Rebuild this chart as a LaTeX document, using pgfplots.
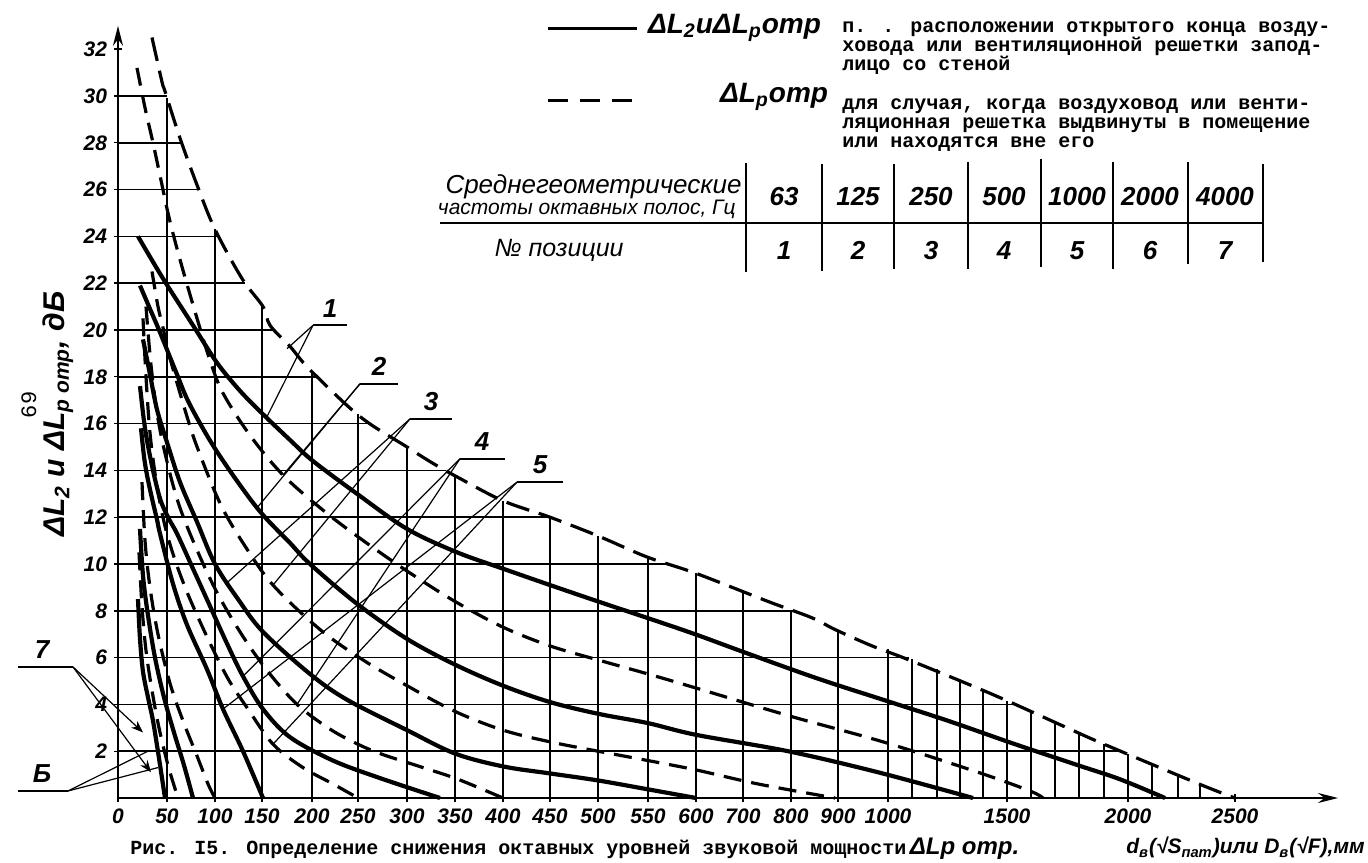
\documentclass[border=0pt]{standalone}
\usepackage{fontspec}
\setmainfont{Liberation Sans}
\newfontfamily\tw{Liberation Mono}
\usepackage{amsmath}
\usepackage{pgfplots}
\pgfplotsset{compat=1.18}
\usetikzlibrary{arrows.meta}

\tikzset{
  grd/.style={line width=0.75pt, black},
  sol/.style={line width=2.1pt, black, smooth, tension=0.55},
  dsh/.style={line width=1.6pt, black, dash pattern=on 9pt off 5pt, smooth, tension=0.55},
  ldr/.style={line width=0.6pt, black},
  hand/.style={font=\fontsize{13}{13}\selectfont\bfseries\itshape},
}

\begin{document}
\begin{tikzpicture}
\begin{axis}[
  scale only axis, width=610pt, height=386.1pt,
  xmin=0, xmax=1220, ymin=0, ymax=33,
  axis lines=left,
  axis line style={line width=1.1pt, -{Stealth[length=10pt,width=5pt]}},
  clip=false,
  xtick={0,49,97,144,194,240,289,337,385,432,480,530,578,625,673,720,770,889,1010,1117},
  xticklabels={0,50,100,150,200,250,300,350,400,450,500,550,600,700,800,900,1000,1500,2000,2500},
  ytick={2,4,...,32},
  tick style={black, line width=0.7pt},
  major tick length=4pt,
  /pgf/number format/assume math mode=true,
  ticklabel style={font=\fontsize{10.5}{10.5}\selectfont\bfseries\itshape},
]
% grid: vertical lines end on the outer dashed curve
\draw[grd] (axis cs:49,0) -- (axis cs:49,29.9);
\draw[grd] (axis cs:97,0) -- (axis cs:97,24.3);
\draw[grd] (axis cs:144,0) -- (axis cs:144,21.0);
\draw[grd] (axis cs:194,0) -- (axis cs:194,18.2);
\draw[grd] (axis cs:240,0) -- (axis cs:240,16.4);
\draw[grd] (axis cs:289,0) -- (axis cs:289,15.0);
\draw[grd] (axis cs:337,0) -- (axis cs:337,13.8);
\draw[grd] (axis cs:385,0) -- (axis cs:385,12.7);
\draw[grd] (axis cs:432,0) -- (axis cs:432,12.0);
\draw[grd] (axis cs:480,0) -- (axis cs:480,11.2);
\draw[grd] (axis cs:530,0) -- (axis cs:530,10.3);
\draw[grd] (axis cs:578,0) -- (axis cs:578,9.6);
\draw[grd] (axis cs:625,0) -- (axis cs:625,8.8);
\draw[grd] (axis cs:673,0) -- (axis cs:673,8.0);
\draw[grd] (axis cs:720,0) -- (axis cs:720,7.15);
\draw[grd] (axis cs:770,0) -- (axis cs:770,6.35);
\draw[grd] (axis cs:794,0) -- (axis cs:794,5.95);
\draw[grd] (axis cs:819,0) -- (axis cs:819,5.5);
\draw[grd] (axis cs:842,0) -- (axis cs:842,5.05);
\draw[grd] (axis cs:865,0) -- (axis cs:865,4.6);
\draw[grd] (axis cs:889,0) -- (axis cs:889,4.15);
\draw[grd] (axis cs:913,0) -- (axis cs:913,3.7);
\draw[grd] (axis cs:937,0) -- (axis cs:937,3.25);
\draw[grd] (axis cs:961,0) -- (axis cs:961,2.8);
\draw[grd] (axis cs:986,0) -- (axis cs:986,2.3);
\draw[grd] (axis cs:1010,0) -- (axis cs:1010,1.9);
\draw[grd] (axis cs:1034,0) -- (axis cs:1034,1.45);
\draw[grd] (axis cs:1060,0) -- (axis cs:1060,1.0);
\draw[grd] (axis cs:1082,0) -- (axis cs:1082,0.6);
% grid: horizontal lines
\draw[grd] (axis cs:0,2) -- (axis cs:1003,2);
\draw[grd] (axis cs:0,4) -- (axis cs:897,4);
\draw[grd] (axis cs:0,6) -- (axis cs:791,6);
\draw[grd] (axis cs:0,8) -- (axis cs:675,8);
\draw[grd] (axis cs:0,10) -- (axis cs:550,10);
\draw[grd] (axis cs:0,12) -- (axis cs:432,12);
\draw[grd] (axis cs:0,14) -- (axis cs:328,14);
\draw[grd] (axis cs:0,16) -- (axis cs:253,16);
\draw[grd] (axis cs:0,18) -- (axis cs:200,18);
\draw[grd] (axis cs:0,20) -- (axis cs:156,20);
\draw[grd] (axis cs:0,22) -- (axis cs:127,22);
\draw[grd] (axis cs:0,24) -- (axis cs:101,24);
\draw[grd] (axis cs:0,26) -- (axis cs:81,26);
\draw[grd] (axis cs:0,28) -- (axis cs:63.5,28);
\draw[grd] (axis cs:0,30) -- (axis cs:48.5,30);

% band 1 (63 Hz)
\addplot[dsh, dash pattern=on 12pt off 5pt, smooth=false] coordinates {(34,32.5) (44,30.6) (47,30.2) (62,28.2) (79,26.2) (97,24.3) (124,22.2) (145,21.0) (152,20.2) (172,19.3) (192,18.3) (242,16.3) (289,15.0) (315,14.3) (340,13.7) (385,12.7) (432,12.0) (480,11.2) (529,10.3) (578,9.6) (650,8.4) (694,7.7) (717,7.2) (754,6.5) (791,5.9) (876,4.4) (949,3.0) (986,2.3) (1081,0.6) (1117,0)};
\addplot[sol] coordinates {(20,24.0) (45,22.2) (75,20.2) (99,18.6) (122,17.4) (145,16.4) (172,15.3) (195,14.4) (239,13.0) (289,11.5) (339,10.5) (385,9.8) (432,9.1) (480,8.4) (529,7.7) (577,7.0) (628,6.2) (700,5.1) (765,4.2) (830,3.3) (897,2.3) (960,1.4) (1002,0.8) (1047,0)};
% band 2 (125 Hz)
\addplot[dsh] coordinates {(19,31.2) (27,29.5) (35,28.0) (42,26.6) (50,25.0) (57,23.8) (66,22.4) (79,20.5) (92,18.7) (105,17.3) (132,15.5) (165,13.8) (205,12.3) (242,11.1) (289,9.7) (337,8.4) (385,7.3) (432,6.5) (480,5.9) (530,5.3) (578,4.7) (672,3.5) (765,2.4) (860,1.1) (912,0.3) (925,0)};
\addplot[sol] coordinates {(22,21.9) (32,20.9) (42,19.9) (59,18.1) (72,16.8) (99,14.8) (139,12.4) (172,10.9) (192,10.0) (239,8.3) (289,6.8) (337,5.7) (385,4.8) (432,4.1) (480,3.6) (530,3.2) (578,2.7) (670,2.0) (760,1.1) (855,0)};
% band 3 (250 Hz)
\addplot[dsh] coordinates {(34,22.5) (40,21.0) (45,20.1) (52,18.8) (69,16.3) (80,14.9) (102,12.6) (125,10.9) (155,9.1) (202,7.2) (245,5.9) (289,4.8) (337,3.7) (385,2.9) (432,2.4) (480,2.0) (530,1.6) (578,1.2) (640,0.6) (717,0)};
\addplot[sol] coordinates {(25,19.6) (32,18.1) (39,16.6) (49,15.2) (62,13.5) (79,11.8) (97,10.0) (120,8.5) (145,7.1) (192,5.3) (229,4.2) (289,2.9) (337,1.9) (385,1.35) (432,1.05) (480,0.75) (530,0.37) (578,0)};
% band 4 (500 Hz)
\addplot[dsh] coordinates {(28,21.0) (33,18.5) (40,16.2) (50,14.2) (62,12.4) (80,10.5) (100,8.7) (125,6.9) (150,5.4) (179,4.0) (210,3.0) (235,2.4) (262,1.9) (305,1.3) (340,0.8) (385,0)};
\addplot[sol] coordinates {(22,17.6) (27,15.8) (34,14.2) (42,12.8) (50,12.0) (59,11.3) (75,9.8) (92,8.2) (109,6.6) (125,5.2) (145,3.8) (172,2.6) (215,1.6) (262,0.85) (322,0)};
% band 5 (1000 Hz)
\addplot[dsh] coordinates {(25,20.5) (28,18.0) (32,15.6) (38,13.6) (46,11.8) (56,10.3) (70,8.7) (90,6.8) (110,5.1) (130,3.8) (155,2.3) (185,1.3) (215,0.6) (240,0)};
\addplot[sol] coordinates {(23,15.8) (26,14.6) (29,13.8) (34,12.8) (39,11.9) (42,11.3) (55,9.15) (69,7.4) (89,5.5) (105,3.8) (125,2.0) (145,0)};
% band 6 (2000 Hz)
\addplot[dsh] coordinates {(24,13.5) (27,11.0) (32,9.0) (40,7.0) (52,4.9) (65,3.3) (79,1.8) (90,0.6) (97,0)};
\addplot[sol] coordinates {(22,11.5) (25,9.5) (30,7.8) (37,6.0) (46,4.3) (56,2.8) (66,1.4) (75,0)};
% band 7 (4000 Hz)
\addplot[dsh] coordinates {(21,10.5) (24,8.2) (28,6.3) (34,4.6) (41,3.0) (50,1.4) (60,0)};
\addplot[sol] coordinates {(20,8.5) (22,6.8) (25,5.4) (30,4.3) (35,3.3) (41,1.7) (47,0)};

% position labels with leaders
\draw[line width=1pt] (axis cs:195,20.2) -- (axis cs:229,20.2);
\node[hand, anchor=south] at (axis cs:212,20.25) {1};
\draw[ldr] (axis cs:195,20.2) -- (axis cs:169,19.2);
\draw[ldr] (axis cs:195,20.2) -- (axis cs:149,16.3);
\draw[line width=1pt] (axis cs:242,17.7) -- (axis cs:280,17.7);
\node[hand, anchor=south] at (axis cs:261,17.75) {2};
\draw[ldr] (axis cs:242,17.7) -- (axis cs:165,13.8);
\draw[ldr] (axis cs:242,17.7) -- (axis cs:139,12.4);
\draw[line width=1pt] (axis cs:292,16.2) -- (axis cs:334,16.2);
\node[hand, anchor=south] at (axis cs:313,16.25) {3};
\draw[ldr] (axis cs:292,16.2) -- (axis cs:155,9.1);
\draw[ldr] (axis cs:292,16.2) -- (axis cs:109,9.2);
\draw[line width=1pt] (axis cs:342,14.5) -- (axis cs:387,14.5);
\node[hand, anchor=south] at (axis cs:364,14.55) {4};
\draw[ldr] (axis cs:342,14.5) -- (axis cs:179,4.0);
\draw[ldr] (axis cs:342,14.5) -- (axis cs:125,5.2);
\draw[line width=1pt] (axis cs:399,13.5) -- (axis cs:445,13.5);
\node[hand, anchor=south] at (axis cs:422,13.55) {5};
\draw[ldr] (axis cs:399,13.5) -- (axis cs:155,2.3);
\draw[ldr] (axis cs:399,13.5) -- (axis cs:105,3.8);
% labels 7 and 6 at bottom left
\draw[line width=1pt] (axis cs:-100,5.6) -- (axis cs:-45,5.6);
\node[hand, anchor=south] at (axis cs:-76,5.65) {7};
\draw[ldr, -{Stealth[length=6pt]}] (axis cs:-45,5.6) -- (axis cs:25,2.8);
\draw[ldr, -{Stealth[length=6pt]}] (axis cs:-45,5.6) -- (axis cs:33,1.1);
\draw[line width=1pt] (axis cs:-100,0.3) -- (axis cs:-50,0.3);
\node[hand, anchor=south] at (axis cs:-76,0.35) {Б};
\draw[ldr] (axis cs:-50,0.3) -- (axis cs:30,2.0);
\draw[ldr] (axis cs:-50,0.3) -- (axis cs:40,1.3);

% axis title and page number
\node[rotate=90, font=\fontsize{15}{15}\selectfont\bfseries\itshape] at (axis cs:-60,16.4)
  {ΔL\textsubscript{2} и ΔL\textsubscript{р отр}, дБ};
\node[rotate=90, font=\tw\fontsize{11}{11}\selectfont] at (axis cs:-89,16.8) {69};

% legend
\draw[line width=1.6pt] (axis cs:430,32.9) -- (axis cs:519,32.9);
\node[font=\fontsize{14}{14}\selectfont\bfseries\itshape, anchor=west] at (axis cs:523,32.9)
  {ΔL\textsubscript{2}иΔL\textsubscript{р}отр};
\node[font=\tw\bfseries\fontsize{10}{9.6}\selectfont, anchor=north west, align=left, inner sep=0pt]
  at (axis cs:724,33.2)
  {п. . расположении открытого конца возду-\\ховода или вентиляционной решетки запод-\\лицо со стеной};
\draw[line width=1.6pt, dash pattern=on 10pt off 6pt] (axis cs:430,29.8) -- (axis cs:519,29.8);
\node[font=\fontsize{14}{14}\selectfont\bfseries\itshape, anchor=west] at (axis cs:595,29.95)
  {ΔL\textsubscript{р}отр};
\node[font=\tw\bfseries\fontsize{10}{9.6}\selectfont, anchor=north west, align=left, inner sep=0pt]
  at (axis cs:724,29.9)
  {для случая, когда воздуховод или венти-\\ляционная решетка выдвинуты в помещение\\или находятся вне его};

% table of octave bands
\draw[line width=1.3pt] (axis cs:322,24.57) -- (axis cs:1145,24.57);
\draw[line width=0.9pt] (axis cs:628,27.14) -- (axis cs:628,22.48);
\draw[line width=0.9pt] (axis cs:704,27.1) -- (axis cs:704,22.5);
\draw[line width=0.9pt] (axis cs:776,27.1) -- (axis cs:776,22.6);
\draw[line width=0.9pt] (axis cs:850,27.2) -- (axis cs:850,22.6);
\draw[line width=0.9pt] (axis cs:923,27.3) -- (axis cs:923,22.7);
\draw[line width=0.9pt] (axis cs:995,27.2) -- (axis cs:995,22.6);
\draw[line width=0.9pt] (axis cs:1070,27.2) -- (axis cs:1070,22.8);
\draw[line width=0.9pt] (axis cs:1145,27.1) -- (axis cs:1145,22.9);
\node[font=\fontsize{13}{13}\selectfont\itshape, anchor=east, inner sep=1pt] at (axis cs:626,26.1) {Среднегеометрические};
\node[font=\fontsize{10.5}{10.5}\selectfont\itshape, anchor=east, inner sep=1pt] at (axis cs:620,25.15) {частоты октавных полос, Гц};
\node[font=\fontsize{12.5}{12.5}\selectfont\itshape, anchor=east, inner sep=1pt] at (axis cs:508,23.4) {№ позиции};
\node[hand] at (axis cs:666,25.7) {63};
\node[hand] at (axis cs:740,25.7) {125};
\node[hand] at (axis cs:813,25.7) {250};
\node[hand] at (axis cs:886,25.7) {500};
\node[hand] at (axis cs:959,25.7) {1000};
\node[hand] at (axis cs:1032,25.7) {2000};
\node[hand] at (axis cs:1107,25.7) {4000};
\node[hand] at (axis cs:666,23.4) {1};
\node[hand] at (axis cs:740,23.4) {2};
\node[hand] at (axis cs:813,23.4) {3};
\node[hand] at (axis cs:886,23.4) {4};
\node[hand] at (axis cs:959,23.4) {5};
\node[hand] at (axis cs:1032,23.4) {6};
\node[hand] at (axis cs:1107,23.4) {7};

% caption and axis title at the bottom
\node[font=\tw\bfseries\fontsize{10}{10}\selectfont, anchor=west, inner sep=0pt] at (axis cs:12,-2.15)
  {Рис. I5. Определение снижения октавных уровней звуковой мощности\,{\rmfamily\itshape\fontsize{12}{12}\selectfont ΔLp отр.}};
\node[font=\fontsize{10.5}{10.5}\selectfont\bfseries\itshape, anchor=east, inner sep=0pt] at (axis cs:1247,-2.12)
  {d\textsubscript{в}(√S\textsubscript{пат})или D\textsubscript{в}(√F),мм};

\coordinate (tl) at (axis cs:-118,34.103);
\coordinate (br) at (axis cs:1250,-2.735);
\end{axis}
\pgfresetboundingbox
\path[use as bounding box] (tl) rectangle (br);
\end{tikzpicture}
\end{document}
